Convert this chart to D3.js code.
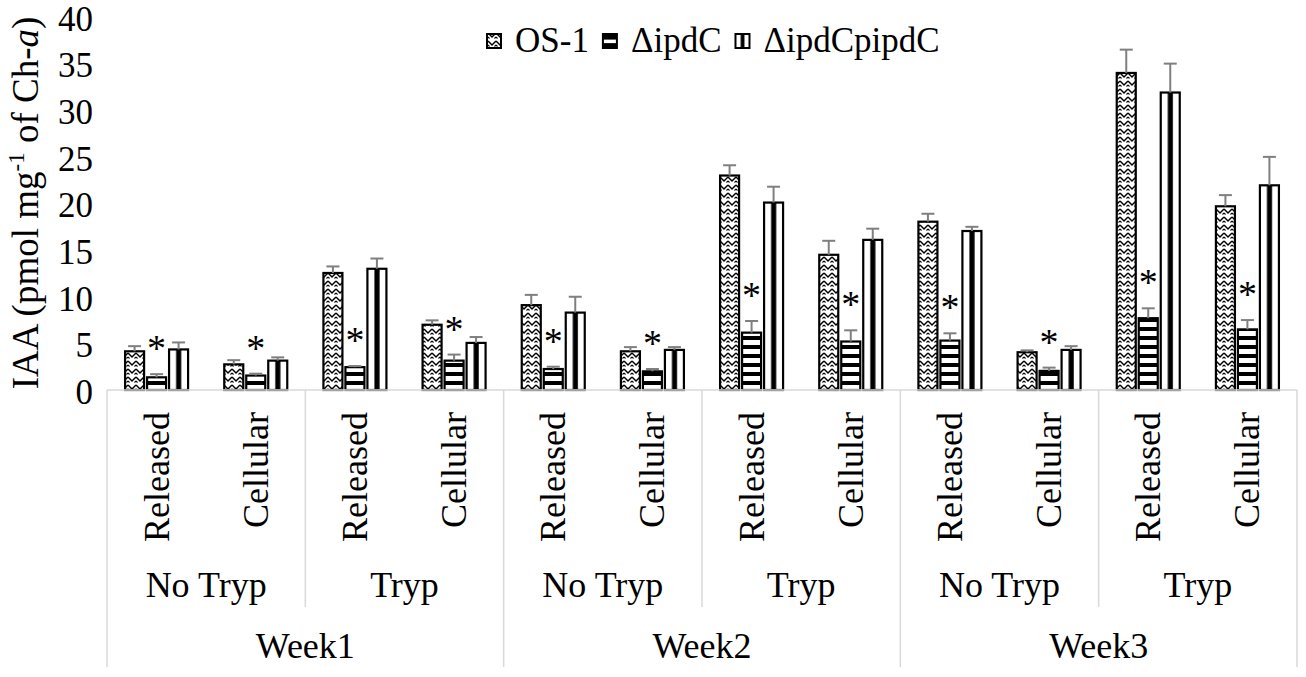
<!DOCTYPE html>
<html><head><meta charset="utf-8">
<script src="https://cdn.jsdelivr.net/npm/d3@7/dist/d3.min.js"></script>
<style>body{margin:0;background:#fff;}</style></head>
<body><svg id="c" width="1306" height="677"></svg>
<script>
const weeks = ["Week1","Week2","Week3"];
const treatments = ["No Tryp","Tryp"];
const fractions = ["Released","Cellular"];
const seriesNames = ["OS-1","\u0394ipdC","\u0394ipdCpipdC"];
const yTicks = [0,5,10,15,20,25,30,35,40];

const os1Values   = [4.15, 2.75, 12.55, 7.0, 9.1, 4.15, 23.0, 14.5, 18.05, 4.05, 34.0, 19.7];
const ipdCValues  = [1.36, 1.55, 2.45, 3.15, 2.25, 2.0, 6.15, 5.2, 5.3, 2.05, 7.7, 6.5];
const compValues  = [4.35, 3.15, 13.0, 5.05, 8.3, 4.3, 20.1, 16.1, 17.05, 4.3, 31.9, 21.95];
const os1Err      = [0.55, 0.45, 0.7, 0.47, 1.1, 0.45, 1.1, 1.5, 0.85, 0.2, 2.5, 1.2];
const ipdCErr     = [0.34, 0.2, 0.12, 0.65, 0.25, 0.25, 1.25, 1.2, 0.78, 0.35, 1.06, 1.0];
const compErr     = [0.75, 0.35, 1.1, 0.63, 1.7, 0.3, 1.7, 1.2, 0.45, 0.4, 3.1, 3.05];
const significant = [true,true,true,true,true,true,true,true,true,true,true,true];

const values = [os1Values, ipdCValues, compValues];
const errs = [os1Err, ipdCErr, compErr];

(function(){
const FONT = '"Liberation Serif", "Times New Roman", serif';
const cats = [];
weeks.forEach(w=>treatments.forEach(t=>fractions.forEach(f=>cats.push({w,t,f,key:w+"|"+t+"|"+f}))));

const svg = d3.select("#c");
const defs = svg.append("defs");
function txt(sel, size){ return sel.attr("font-family",FONT).style("font-family",FONT).style("font-size",size+"px").attr("fill","#000"); }

const p1 = defs.append("pattern").attr("id","pZig").attr("patternUnits","userSpaceOnUse")
  .attr("width",8).attr("height",8);
p1.append("rect").attr("width",8).attr("height",8).attr("fill","#fff");
p1.append("path").attr("d","M0,1 L4,5 L8,1").attr("fill","none").attr("stroke","#000").attr("stroke-width",1.5);
p1.append("path").attr("d","M0,5 L1.5,6.5 M8,5 L6.5,6.5").attr("fill","none").attr("stroke","#000").attr("stroke-width",1.1);
const p2 = defs.append("pattern").attr("id","pHor").attr("patternUnits","userSpaceOnUse")
  .attr("width",8).attr("height",9).attr("y",390);
p2.append("rect").attr("width",8).attr("height",9).attr("fill","#fff");
p2.append("rect").attr("width",8).attr("height",4).attr("y",0).attr("fill","#000");
const p3 = defs.append("pattern").attr("id","pVer").attr("patternUnits","objectBoundingBox")
  .attr("patternContentUnits","objectBoundingBox").attr("width",1).attr("height",1);
p3.append("rect").attr("width",1).attr("height",1).attr("fill","#fff");
p3.append("rect").attr("x",0.37).attr("width",0.27).attr("height",1).attr("fill","#000");
const pl = defs.append("pattern").attr("id","pHorL").attr("patternUnits","objectBoundingBox")
  .attr("patternContentUnits","objectBoundingBox").attr("width",1).attr("height",1);
pl.append("rect").attr("width",1).attr("height",1).attr("fill","#000");
pl.append("rect").attr("y",0.4).attr("width",1).attr("height",0.25).attr("fill","#fff");
const fills = ["url(#pZig)","url(#pHor)","url(#pVer)"];

const left = 107, right = 1297, base = 390, yTop = 17;
const x = d3.scaleBand().domain(cats.map(c=>c.key)).range([left,right]).padding(0);
const xs = d3.scaleBand().domain(seriesNames).range([-31.5,31.5]).paddingInner(0.136);
const y = d3.scaleLinear().domain([0,40]).range([base,yTop]);

const ya = svg.append("g").attr("transform",`translate(${left-14},0)`)
  .call(d3.axisLeft(y).tickValues(yTicks).tickSize(0).tickPadding(0));
ya.attr("font-family",FONT);
ya.select(".domain").remove();
txt(ya.selectAll("text"),35).attr("dy","0.38em");

const yt = txt(svg.append("text").attr("transform","translate(38,203) rotate(-90)")
  .attr("text-anchor","middle"),37);
yt.append("tspan").text("IAA (pmol mg");
yt.append("tspan").attr("dy",-14).style("font-size","23px").text("-1");
yt.append("tspan").attr("dy",14).text(" of Ch-");
yt.append("tspan").style("font-style","italic").text("a");
yt.append("tspan").text(")");

cats.forEach((c,i)=>{
  const cx = x(c.key) + x.bandwidth()/2;
  seriesNames.forEach((s,k)=>{
    const v = values[k][i], e = errs[k][i];
    const bx = cx + xs(s), bw = xs.bandwidth();
    svg.append("rect").attr("x",bx).attr("y",y(v)).attr("width",bw).attr("height",y(0)-y(v))
      .attr("fill",fills[k]).attr("stroke","#000").attr("stroke-width",2.2);
    const ex = bx + bw/2;
    svg.append("line").attr("x1",ex).attr("x2",ex).attr("y1",y(v)).attr("y2",y(v+e))
      .attr("stroke","#7f7f7f").attr("stroke-width",2);
    svg.append("line").attr("x1",ex-6.5).attr("x2",ex+6.5).attr("y1",y(v+e)).attr("y2",y(v+e))
      .attr("stroke","#7f7f7f").attr("stroke-width",2);
    if(k===1 && significant[i]){
      txt(svg.append("text").attr("x",ex).attr("y",y(v+e)-32+19).attr("text-anchor","middle"),38).text("*");
    }
  });
});

const axisCol = "#d9d9d9";
svg.append("line").attr("x1",left).attr("x2",right).attr("y1",base).attr("y2",base)
  .attr("stroke",axisCol).attr("stroke-width",1.5);
const catW = x.bandwidth();
for(let wi=0; wi<=weeks.length; wi++){
  const xx = left + wi*catW*4;
  svg.append("line").attr("x1",xx).attr("x2",xx).attr("y1",base).attr("y2",667)
    .attr("stroke",axisCol).attr("stroke-width",1.5);
}
weeks.forEach((w,wi)=>{
  const xx = left + wi*catW*4 + catW*2;
  svg.append("line").attr("x1",xx).attr("x2",xx).attr("y1",base).attr("y2",607)
    .attr("stroke",axisCol).attr("stroke-width",1.5);
});
cats.forEach(c=>{
  const cx = x(c.key)+catW/2;
  txt(svg.append("text").attr("transform",`translate(${cx+12},412) rotate(-90)`)
    .attr("text-anchor","end"),36).text(c.f);
});
weeks.forEach((w,wi)=>{
  treatments.forEach((t,ti)=>{
    const cx = left + wi*catW*4 + ti*catW*2 + catW;
    txt(svg.append("text").attr("x",cx).attr("y",597).attr("text-anchor","middle"),36).text(t);
  });
  txt(svg.append("text").attr("x",left + wi*catW*4 + catW*2).attr("y",658).attr("text-anchor","middle"),36).text(w);
});

let lx = 487;
seriesNames.forEach((s,k)=>{
  svg.append("rect").attr("x",lx).attr("y",34).attr("width",14).attr("height",14)
    .attr("fill",k===1?"url(#pHorL)":fills[k]).attr("stroke","#000").attr("stroke-width",2);
  const t = txt(svg.append("text").attr("x",lx+28).attr("y",52),35).text(s);
  lx = lx + 28 + t.node().getComputedTextLength() + 14;
});
})();
</script></body></html>
